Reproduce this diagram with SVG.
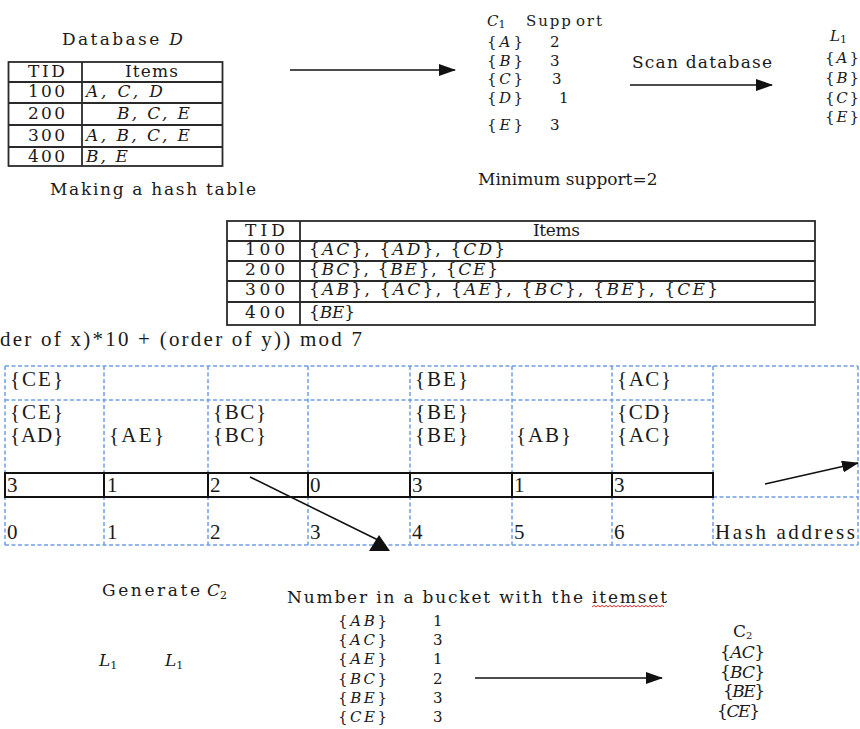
<svg xmlns="http://www.w3.org/2000/svg" width="860" height="729" viewBox="0 0 860 729">
<style>
.c{font-family:"DejaVu Serif","Liberation Serif",serif;font-size:17px;fill:#1a1a1a}
.s{font-size:15px}
.t{font-family:"Liberation Serif",serif;font-size:21px;fill:#1a1a1a}
.i{font-style:italic}
.sub{font-size:11px}
.tb{fill:none;stroke:#2a2a2a;stroke-width:1.8}
.dash{fill:none;stroke:#6f9fe6;stroke-width:1.5;stroke-dasharray:4 2.5}
.sol{fill:none;stroke:#111;stroke-width:2}
.ar{stroke:#111;stroke-width:1.6;fill:none}
</style>
<defs>
<marker id="ah" markerUnits="userSpaceOnUse" markerWidth="17" markerHeight="12" viewBox="0 0 17 12" refX="16" refY="6" orient="auto"><path d="M0,0 L17,6 L0,12 z" fill="#111"/></marker>
</defs>
<rect width="860" height="729" fill="#fff"/>

<g id="database-d">
<text class="c" x="62" y="45" font-size="18" textLength="121" lengthAdjust="spacing">Database <tspan class="i">D</tspan></text>
<rect class="tb" x="8.5" y="62" width="214" height="104"/>
<path class="tb" d="M8.5,82H222.5M8.5,103H222.5M8.5,125H222.5M8.5,147H222.5M82,62V166"/>
<text class="c" x="28" y="77" textLength="37" lengthAdjust="spacing">TID</text>
<text class="c" x="125" y="77" textLength="53" lengthAdjust="spacing">Items</text>
<text class="c" x="28" y="97" textLength="37" lengthAdjust="spacing">100</text>
<text class="c i" x="86" y="97" textLength="77" lengthAdjust="spacing">A, C, D</text>
<text class="c" x="28" y="119" textLength="37" lengthAdjust="spacing">200</text>
<text class="c i" x="117" y="119" textLength="73" lengthAdjust="spacing">B, C, E</text>
<text class="c" x="28" y="141" textLength="37" lengthAdjust="spacing">300</text>
<text class="c i" x="86" y="141" textLength="104" lengthAdjust="spacing">A, B, C, E</text>
<text class="c" x="28" y="162" textLength="37" lengthAdjust="spacing">400</text>
<text class="c i" x="86" y="162" textLength="42" lengthAdjust="spacing">B, E</text>
</g>

<g id="making-hash-label">
<text class="c" x="50" y="195" textLength="206" lengthAdjust="spacing">Making a hash table</text>
</g>

<g id="c1">
<text class="c s" x="487" y="26"><tspan class="i">C</tspan><tspan class="sub" dy="2">1</tspan></text>
<text class="c s" x="526" y="26" textLength="76" lengthAdjust="spacing">Supp<tspan dx="3">ort</tspan></text>
<text class="c s" x="487" y="47" textLength="36" lengthAdjust="spacing">{<tspan class="i">A</tspan>}</text>
<text class="c s" x="550" y="47">2</text>
<text class="c s" x="487" y="66" textLength="36" lengthAdjust="spacing">{<tspan class="i">B</tspan>}</text>
<text class="c s" x="550" y="66">3</text>
<text class="c s" x="487" y="84" textLength="36" lengthAdjust="spacing">{<tspan class="i">C</tspan>}</text>
<text class="c s" x="552" y="84">3</text>
<text class="c s" x="487" y="103" textLength="36" lengthAdjust="spacing">{<tspan class="i">D</tspan>}</text>
<text class="c s" x="559" y="103">1</text>
<text class="c s" x="487" y="130" textLength="36" lengthAdjust="spacing">{<tspan class="i">E</tspan>}</text>
<text class="c s" x="550" y="130">3</text>
</g>

<g id="scan-label">
<text class="c" x="632" y="68" textLength="140" lengthAdjust="spacing">Scan database</text>
</g>

<g id="l1">
<text class="c s" x="830" y="41"><tspan class="i">L</tspan><tspan class="sub" dy="2">1</tspan></text>
<text class="c s" x="825" y="63" textLength="34" lengthAdjust="spacing">{<tspan class="i">A</tspan>}</text>
<text class="c s" x="825" y="83" textLength="34" lengthAdjust="spacing">{<tspan class="i">B</tspan>}</text>
<text class="c s" x="825" y="103" textLength="34" lengthAdjust="spacing">{<tspan class="i">C</tspan>}</text>
<text class="c s" x="825" y="122" textLength="34" lengthAdjust="spacing">{<tspan class="i">E</tspan>}</text>
</g>

<g id="min-support">
<text class="c" x="478" y="185" font-size="16">Minimum support=2</text>
</g>

<g id="pair-table">
<rect class="tb" x="227" y="221" width="588" height="104"/>
<path class="tb" d="M227,241H815M227,261H815M227,281H815M227,302H815M300,221V325"/>
<text class="c" x="245" y="236" textLength="40" lengthAdjust="spacing">TID</text>
<text class="c" x="533" y="236" textLength="47" lengthAdjust="spacing">Items</text>
<text class="c" x="245" y="255" textLength="40" lengthAdjust="spacing">100</text>
<text class="c" x="309" y="255" textLength="196" lengthAdjust="spacing">{<tspan class="i">AC</tspan>}, {<tspan class="i">AD</tspan>}, {<tspan class="i">CD</tspan>}</text>
<text class="c" x="245" y="275" textLength="40" lengthAdjust="spacing">200</text>
<text class="c" x="309" y="275" textLength="189" lengthAdjust="spacing">{<tspan class="i">BC</tspan>}, {<tspan class="i">BE</tspan>}, {<tspan class="i">CE</tspan>}</text>
<text class="c" x="245" y="295" textLength="40" lengthAdjust="spacing">300</text>
<text class="c" x="309" y="295" textLength="409" lengthAdjust="spacing">{<tspan class="i">AB</tspan>}, {<tspan class="i">AC</tspan>}, {<tspan class="i">AE</tspan>}, {<tspan class="i">BC</tspan>}, {<tspan class="i">BE</tspan>}, {<tspan class="i">CE</tspan>}</text>
<text class="c" x="245" y="318" textLength="40" lengthAdjust="spacing">400</text>
<text class="c" x="309" y="318" textLength="46" lengthAdjust="spacing">{<tspan class="i">BE</tspan>}</text>
</g>

<g id="hash-formula">
<text class="t" x="0" y="346" font-size="22" textLength="362" lengthAdjust="spacing">der of x)*10 + (order of y)) mod 7</text>
</g>

<g id="hash-table">
<path class="dash" d="M5,366H858M5,400H713M713,497H858M5,545H858M5,366V545M104,366V545M208,366V545M308,366V545M410,366V545M512,366V545M612,366V545M713,366V545M858,366V545"/>
<rect class="sol" x="5" y="473" width="708" height="24"/>
<path class="sol" d="M104,473V497M208,473V497M308,473V497M410,473V497M512,473V497M612,473V497"/>
<text class="t" x="10" y="386" textLength="53" lengthAdjust="spacing">{CE}</text>
<text class="t" x="415" y="386" textLength="53" lengthAdjust="spacing">{BE}</text>
<text class="t" x="617" y="386" textLength="54" lengthAdjust="spacing">{AC}</text>
<text class="t" x="10" y="419" textLength="53" lengthAdjust="spacing">{CE}</text>
<text class="t" x="10" y="442" textLength="53" lengthAdjust="spacing">{AD}</text>
<text class="t" x="109" y="442" textLength="55" lengthAdjust="spacing">{AE}</text>
<text class="t" x="213" y="419" textLength="53" lengthAdjust="spacing">{BC}</text>
<text class="t" x="213" y="442" textLength="53" lengthAdjust="spacing">{BC}</text>
<text class="t" x="415" y="419" textLength="53" lengthAdjust="spacing">{BE}</text>
<text class="t" x="415" y="442" textLength="53" lengthAdjust="spacing">{BE}</text>
<text class="t" x="516" y="442" textLength="55" lengthAdjust="spacing">{AB}</text>
<text class="t" x="617" y="419" textLength="54" lengthAdjust="spacing">{CD}</text>
<text class="t" x="617" y="442" textLength="54" lengthAdjust="spacing">{AC}</text>
<text class="t" x="7" y="492" font-size="20">3</text>
<text class="t" x="107" y="492" font-size="20">1</text>
<text class="t" x="210" y="492" font-size="20">2</text>
<text class="t" x="310" y="492" font-size="20">0</text>
<text class="t" x="412" y="492" font-size="20">3</text>
<text class="t" x="514" y="492" font-size="20">1</text>
<text class="t" x="614" y="492" font-size="20">3</text>
<text class="t" x="7" y="539" font-size="20">0</text>
<text class="t" x="107" y="539" font-size="20">1</text>
<text class="t" x="210" y="539" font-size="20">2</text>
<text class="t" x="310" y="539" font-size="20">3</text>
<text class="t" x="412" y="539" font-size="20">4</text>
<text class="t" x="514" y="539" font-size="20">5</text>
<text class="t" x="614" y="539" font-size="20">6</text>
<text class="t" x="715" y="539" font-size="20" textLength="140" lengthAdjust="spacing">Hash address</text>
</g>

<g id="generate-c2">
<text class="c" x="102" y="596" textLength="98" lengthAdjust="spacing">Generate</text>
<text class="c" x="207" y="596"><tspan class="i">C</tspan><tspan class="sub" dy="3">2</tspan></text>
<text class="c" x="99" y="666"><tspan class="i">L</tspan><tspan class="sub" dy="3">1</tspan></text>
<text class="c" x="165" y="666"><tspan class="i">L</tspan><tspan class="sub" dy="3">1</tspan></text>
</g>

<g id="bucket-counts">
<text class="c" x="287" y="603" textLength="380" lengthAdjust="spacing">Number in a bucket with the itemset</text>
<path d="M592,607l2,-1.6l2,1.6l2,-1.6l2,1.6l2,-1.6l2,1.6l2,-1.6l2,1.6l2,-1.6l2,1.6l2,-1.6l2,1.6l2,-1.6l2,1.6l2,-1.6l2,1.6l2,-1.6l2,1.6l2,-1.6l2,1.6l2,-1.6l2,1.6l2,-1.6l2,1.6l2,-1.6l2,1.6l2,-1.6l2,1.6l2,-1.6l2,1.6l2,-1.6l2,1.6l2,-1.6l2,1.6l2,-1.6l2,1.6" fill="none" stroke="#e03030" stroke-width="1"/>
<text class="c s" x="338" y="626" textLength="49" lengthAdjust="spacing">{<tspan class="i">AB</tspan>}</text>
<text class="c s" x="433" y="626">1</text>
<text class="c s" x="338" y="645" textLength="49" lengthAdjust="spacing">{<tspan class="i">AC</tspan>}</text>
<text class="c s" x="433" y="645">3</text>
<text class="c s" x="338" y="664" textLength="49" lengthAdjust="spacing">{<tspan class="i">AE</tspan>}</text>
<text class="c s" x="433" y="664">1</text>
<text class="c s" x="338" y="684" textLength="49" lengthAdjust="spacing">{<tspan class="i">BC</tspan>}</text>
<text class="c s" x="433" y="684">2</text>
<text class="c s" x="338" y="703" textLength="49" lengthAdjust="spacing">{<tspan class="i">BE</tspan>}</text>
<text class="c s" x="433" y="703">3</text>
<text class="c s" x="338" y="722" textLength="49" lengthAdjust="spacing">{<tspan class="i">CE</tspan>}</text>
<text class="c s" x="433" y="722">3</text>
</g>

<g id="c2">
<text class="c" x="733" y="637" font-size="14">C<tspan font-size="10" dy="2">2</tspan></text>
<text class="c" x="720" y="658" font-size="14" textLength="45" lengthAdjust="spacing">{<tspan class="i">AC</tspan>}</text>
<text class="c" x="720" y="678" font-size="14" textLength="45" lengthAdjust="spacing">{<tspan class="i">BC</tspan>}</text>
<text class="c" x="723" y="697" font-size="14" textLength="42" lengthAdjust="spacing">{<tspan class="i">BE</tspan>}</text>
<text class="c" x="717" y="717" font-size="14" textLength="43" lengthAdjust="spacing">{<tspan class="i">CE</tspan>}</text>
</g>

<g id="connectors">
<line class="ar" x1="290" y1="70" x2="455" y2="70" marker-end="url(#ah)"/>
<line class="ar" x1="630" y1="85" x2="772" y2="85" marker-end="url(#ah)"/>
<line class="ar" x1="250" y1="477" x2="378" y2="540"/>
<polygon points="379,535 369,551 390,551" fill="#111"/>
<line class="ar" x1="765" y1="484" x2="858" y2="463" marker-end="url(#ah)"/>
<line class="ar" x1="475" y1="678" x2="662" y2="678" marker-end="url(#ah)"/>
</g>
</svg>
